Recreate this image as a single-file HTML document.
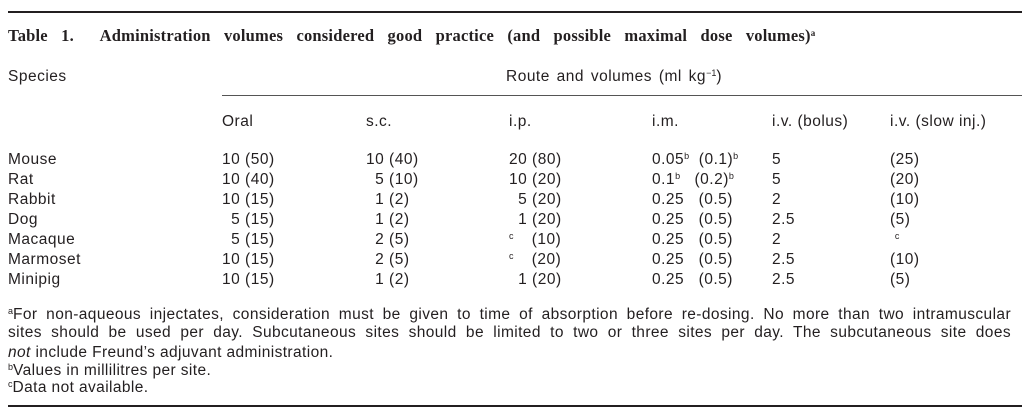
<!DOCTYPE html>
<html><head><meta charset="utf-8"><style>
body{margin:0;width:1030px;height:416px;background:#fff;position:relative;overflow:hidden;font-family:"Liberation Sans",sans-serif;color:#231f20}
.a{position:absolute;white-space:pre;font-size:15.5px;line-height:18px;letter-spacing:0.5px}
.rule{position:absolute;background:#231f20}
sup{font-size:9px;vertical-align:5px;line-height:0;letter-spacing:0}
.fn{position:absolute;left:8px;width:1003px;font-size:15.5px;line-height:18px;letter-spacing:0.4px;white-space:nowrap}
.j{text-align:justify;text-align-last:justify;white-space:normal}
</style></head><body>
<div class="rule" style="left:8px;top:11px;width:1014px;height:2px"></div>
<div class="a" style="left:8px;top:27px;font-family:'Liberation Serif',serif;font-weight:bold;font-size:16.5px;letter-spacing:0.2px;word-spacing:9px">Table 1.  Administration volumes considered good practice (and possible maximal dose volumes)<sup>a</sup></div>
<div class="a" style="left:8px;top:68px">Species</div>
<div class="a" style="left:506px;top:68px;word-spacing:2px">Route and volumes (ml kg<sup>−1</sup>)</div>
<div class="rule" style="left:222px;top:95px;width:800px;height:1px;background:#555"></div>
<div class="a" style="left:222px;top:113px">Oral</div>
<div class="a" style="left:366px;top:113px">s.c.</div>
<div class="a" style="left:509px;top:113px">i.p.</div>
<div class="a" style="left:652px;top:113px">i.m.</div>
<div class="a" style="left:772px;top:113px">i.v. (bolus)</div>
<div class="a" style="left:890px;top:113px">i.v. (slow inj.)</div>
<div id="rows"></div>
<div class="fn j" style="top:306px"><sup>a</sup>For non-aqueous injectates, consideration must be given to time of absorption before re-dosing. No more than two intramuscular</div>
<div class="fn j" style="top:324px">sites should be used per day. Subcutaneous sites should be limited to two or three sites per day. The subcutaneous site does</div>
<div class="fn" style="top:344px"><i>not</i> include Freund’s adjuvant administration.</div>
<div class="fn" style="top:362px"><sup>b</sup>Values in millilitres per site.</div>
<div class="fn" style="top:379px"><sup>c</sup>Data not available.</div>
<div class="rule" style="left:8px;top:405px;width:1014px;height:2px"></div>
<script>
const species=["Mouse","Rat","Rabbit","Dog","Macaque","Marmoset","Minipig"];
const oral=["10 (50)","10 (40)","10 (15)","\u20075 (15)","\u20075 (15)","10 (15)","10 (15)"];
const sc=["10 (40)","\u20075 (10)","\u20071 (2)","\u20071 (2)","\u20072 (5)","\u20072 (5)","\u20071 (2)"];
const ip=["20 (80)","10 (20)","\u20075 (20)","\u20071 (20)","<sup>c</sup>\u2007\u2007(10)","<sup>c</sup>\u2007\u2007(20)","\u20071 (20)"];
const im=["0.05<sup>b</sup>  (0.1)<sup>b</sup>","0.1<sup>b</sup>   (0.2)<sup>b</sup>","0.25   (0.5)","0.25   (0.5)","0.25   (0.5)","0.25   (0.5)","0.25   (0.5)"];
const bolus=["5","5","2","2.5","2","2.5","2.5"];
const slow=["(25)","(20)","(10)","(5)"," <sup>c</sup>","(10)","(5)"];
const cols=[[species,8,"species"],[oral,222,"oral"],[sc,366,"sc"],[ip,509,"ip"],[im,652,"im"],[bolus,772,"iv-bolus"],[slow,890,"iv-slow"]];
const root=document.getElementById('rows');
species.forEach((s,i)=>{
  cols.forEach(([arr,x,n])=>{
    const d=document.createElement('div');
    d.className='a';
    d.style.left=x+'px';
    d.style.top=(151+i*20)+'px';
    d.innerHTML=arr[i];
    
    
    root.appendChild(d);
  });
});
</script>
</body></html>
